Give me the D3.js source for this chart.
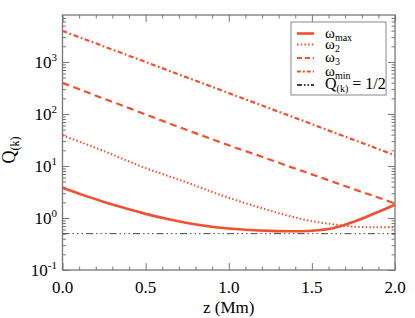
<!DOCTYPE html>
<html>
<head>
<meta charset="utf-8">
<script src="https://cdn.jsdelivr.net/npm/d3@7"></script>
<style>
  body { margin: 0; background: #fff; }
  svg text { font-family: "Liberation Serif", "Times New Roman", Times, serif; }
  .axis path { display: none; }
  .axis line { stroke: #777; stroke-width: 1; }
</style>
</head>
<body>
<div id="chart"></div>
<script>
// z grid (Mm) shared by every curve
var zVals = [0, 0.125, 0.25, 0.375, 0.5, 0.625, 0.75, 0.875, 1.0, 1.125, 1.25, 1.375, 1.5, 1.625, 1.75, 1.875, 2.0];

// Q(k)
var qMax = [3.8, 2.75, 2.04, 1.55, 1.2, 0.966, 0.804, 0.695, 0.627, 0.586, 0.565, 0.557, 0.569, 0.635, 0.841, 1.216, 1.8];
var q2   = [39, 27.5, 19.3, 13.2, 9.1, 6.6, 4.8, 3.4, 2.45, 1.82, 1.38, 1.07, 0.87, 0.76, 0.68, 0.665, 0.66];
var q3   = [395, 279, 196, 139, 98, 69, 49, 35, 25, 18.2, 13.2, 9.5, 6.9, 5.0, 3.6, 2.63, 1.9];
var qMin = [3950, 2800, 1990, 1410, 1000, 708, 502, 356, 252, 179, 127, 90, 64, 45, 32, 22.7, 16];
var qHalf = 0.5;

var xMajor = [0, 0.5, 1.0, 1.5, 2.0];
var xMajorLabels = ["0.0", "0.5", "1.0", "1.5", "2.0"];
var yExponents = [-1, 0, 1, 2, 3];

var width = 415, height = 318;
var plotLeft = 62.5, plotRight = 395, plotTop = 15, plotBottom = 270;
var red = "#f0502d";
var serif = "'Liberation Serif', 'Times New Roman', Times, serif";

var svg = d3.select("#chart").append("svg")
  .attr("width", width)
  .attr("height", height)
  .attr("font-family", serif);

var x = d3.scaleLinear().domain([0, 2]).range([plotLeft, plotRight]);
var y = d3.scaleLog().domain([0.1, 8000]).range([plotBottom, plotTop]);

// minor ticks
var xMinor = d3.range(0, 2.0001, 0.1).filter(v => xMajor.every(m => Math.abs(m - v) > 1e-6));
var yMajor = yExponents.map(e => Math.pow(10, e));
var yMinor = [];
yExponents.forEach(function(e) {
  for (var k = 2; k <= 9; k++) {
    var v = k * Math.pow(10, e);
    if (v < 8000) yMinor.push(v);
  }
});

function addAxis(axis, tx, ty) {
  svg.append("g").attr("class", "axis")
    .attr("transform", "translate(" + tx + "," + ty + ")")
    .call(axis);
}

// ticks point inward on all four sides
addAxis(d3.axisBottom(x).tickValues(xMajor).tickSize(-7).tickFormat(""), 0, plotBottom);
addAxis(d3.axisBottom(x).tickValues(xMinor).tickSize(-3.5).tickFormat(""), 0, plotBottom);
addAxis(d3.axisTop(x).tickValues(xMajor).tickSize(-7).tickFormat(""), 0, plotTop);
addAxis(d3.axisTop(x).tickValues(xMinor).tickSize(-3.5).tickFormat(""), 0, plotTop);
addAxis(d3.axisLeft(y).tickValues(yMajor).tickSize(-7).tickFormat(""), plotLeft, 0);
addAxis(d3.axisLeft(y).tickValues(yMinor).tickSize(-3.5).tickFormat(""), plotLeft, 0);
addAxis(d3.axisRight(y).tickValues(yMajor).tickSize(-7).tickFormat(""), plotRight, 0);
addAxis(d3.axisRight(y).tickValues(yMinor).tickSize(-3.5).tickFormat(""), plotRight, 0);

// frame
svg.append("rect")
  .attr("x", plotLeft).attr("y", plotTop)
  .attr("width", plotRight - plotLeft).attr("height", plotBottom - plotTop)
  .attr("fill", "none").attr("stroke", "#777").attr("stroke-width", 1.3);

// x tick labels
svg.selectAll("text.xlab")
  .data(xMajor)
  .enter().append("text")
    .attr("class", "xlab")
    .attr("x", d => x(d))
    .attr("y", 293)
    .attr("text-anchor", "middle")
    .attr("font-size", 17)
    .text((d, i) => xMajorLabels[i]);

// y tick labels, 10 with superscript exponent
var ylab = svg.selectAll("text.ylab")
  .data(yExponents)
  .enter().append("text")
    .attr("class", "ylab")
    .attr("x", 57)
    .attr("y", d => y(Math.pow(10, d)) + 6)
    .attr("text-anchor", "end")
    .attr("font-size", 17);
ylab.append("tspan").text("10");
ylab.append("tspan").attr("font-size", 11).attr("dy", -7).text(d => d);

// axis titles
svg.append("text")
  .attr("x", (plotLeft + plotRight) / 2)
  .attr("y", 313)
  .attr("text-anchor", "middle")
  .attr("font-size", 17)
  .text("z (Mm)");

var yt = svg.append("text")
  .attr("transform", "translate(15,150) rotate(-90)")
  .attr("text-anchor", "middle")
  .attr("font-size", 18);
yt.append("tspan").text("Q");
yt.append("tspan").attr("font-size", 12).attr("dy", 4).text("(k)");

// curves
var series = [
  { values: q2,   dash: "1.5,2.2",  width: 2 },
  { values: q3,   dash: "7,4.5",    width: 2.2 },
  { values: qMin, dash: "5,2.5,1.8,2.5", width: 2.2 },
  { values: qMax, dash: null,       width: 2.6 }
];

var line = d3.line()
  .x((d, i) => x(zVals[i]))
  .y(d => y(d))
  .curve(d3.curveCatmullRom.alpha(0.5));

svg.append("line")
  .attr("x1", x(0)).attr("x2", x(2))
  .attr("y1", y(qHalf)).attr("y2", y(qHalf))
  .attr("stroke", "#444").attr("stroke-width", 1)
  .attr("stroke-dasharray", "7,3,1.5,3,1.5,3,1.5,3");

svg.selectAll("path.curve")
  .data(series)
  .enter().append("path")
    .attr("class", "curve")
    .attr("d", d => line(d.values))
    .attr("fill", "none")
    .attr("stroke", red)
    .attr("stroke-width", d => d.width)
    .attr("stroke-dasharray", d => d.dash);

// legend
var legend = svg.append("g");
legend.append("rect")
  .attr("x", 291).attr("y", 22)
  .attr("width", 95).attr("height", 73)
  .attr("fill", "#fff").attr("stroke", "#888").attr("stroke-width", 1);

var legendItems = [
  { name: "ω", sub: "max", dash: null, width: 2.6, color: red, yy: 33.5 },
  { name: "ω", sub: "2", dash: "1.5,2.2", width: 2, color: red, yy: 44.5 },
  { name: "ω", sub: "3", dash: "5,3", width: 2.2, color: red, yy: 58 },
  { name: "ω", sub: "min", dash: "4,2,1.8,2", width: 2.2, color: red, yy: 71.5 },
  { name: "Q", sub: "(k)", after: " = 1/2", dash: "5,2,1.5,2,1.5,2", width: 1.6, color: "#000", yy: 85 }
];

legendItems.forEach(function(it) {
  legend.append("line")
    .attr("x1", 297).attr("x2", 314)
    .attr("y1", it.yy).attr("y2", it.yy)
    .attr("stroke", it.color)
    .attr("stroke-width", it.width)
    .attr("stroke-dasharray", it.dash);
  var t = legend.append("text")
    .attr("x", 325)
    .attr("y", it.yy + 4)
    .attr("font-size", it.after ? 16 : 15);
  t.append("tspan").text(it.name);
  t.append("tspan").attr("font-size", 10).attr("dy", 3).text(it.sub);
  if (it.after) t.append("tspan").attr("dy", -3).text(it.after);
});
</script>
</body>
</html>
